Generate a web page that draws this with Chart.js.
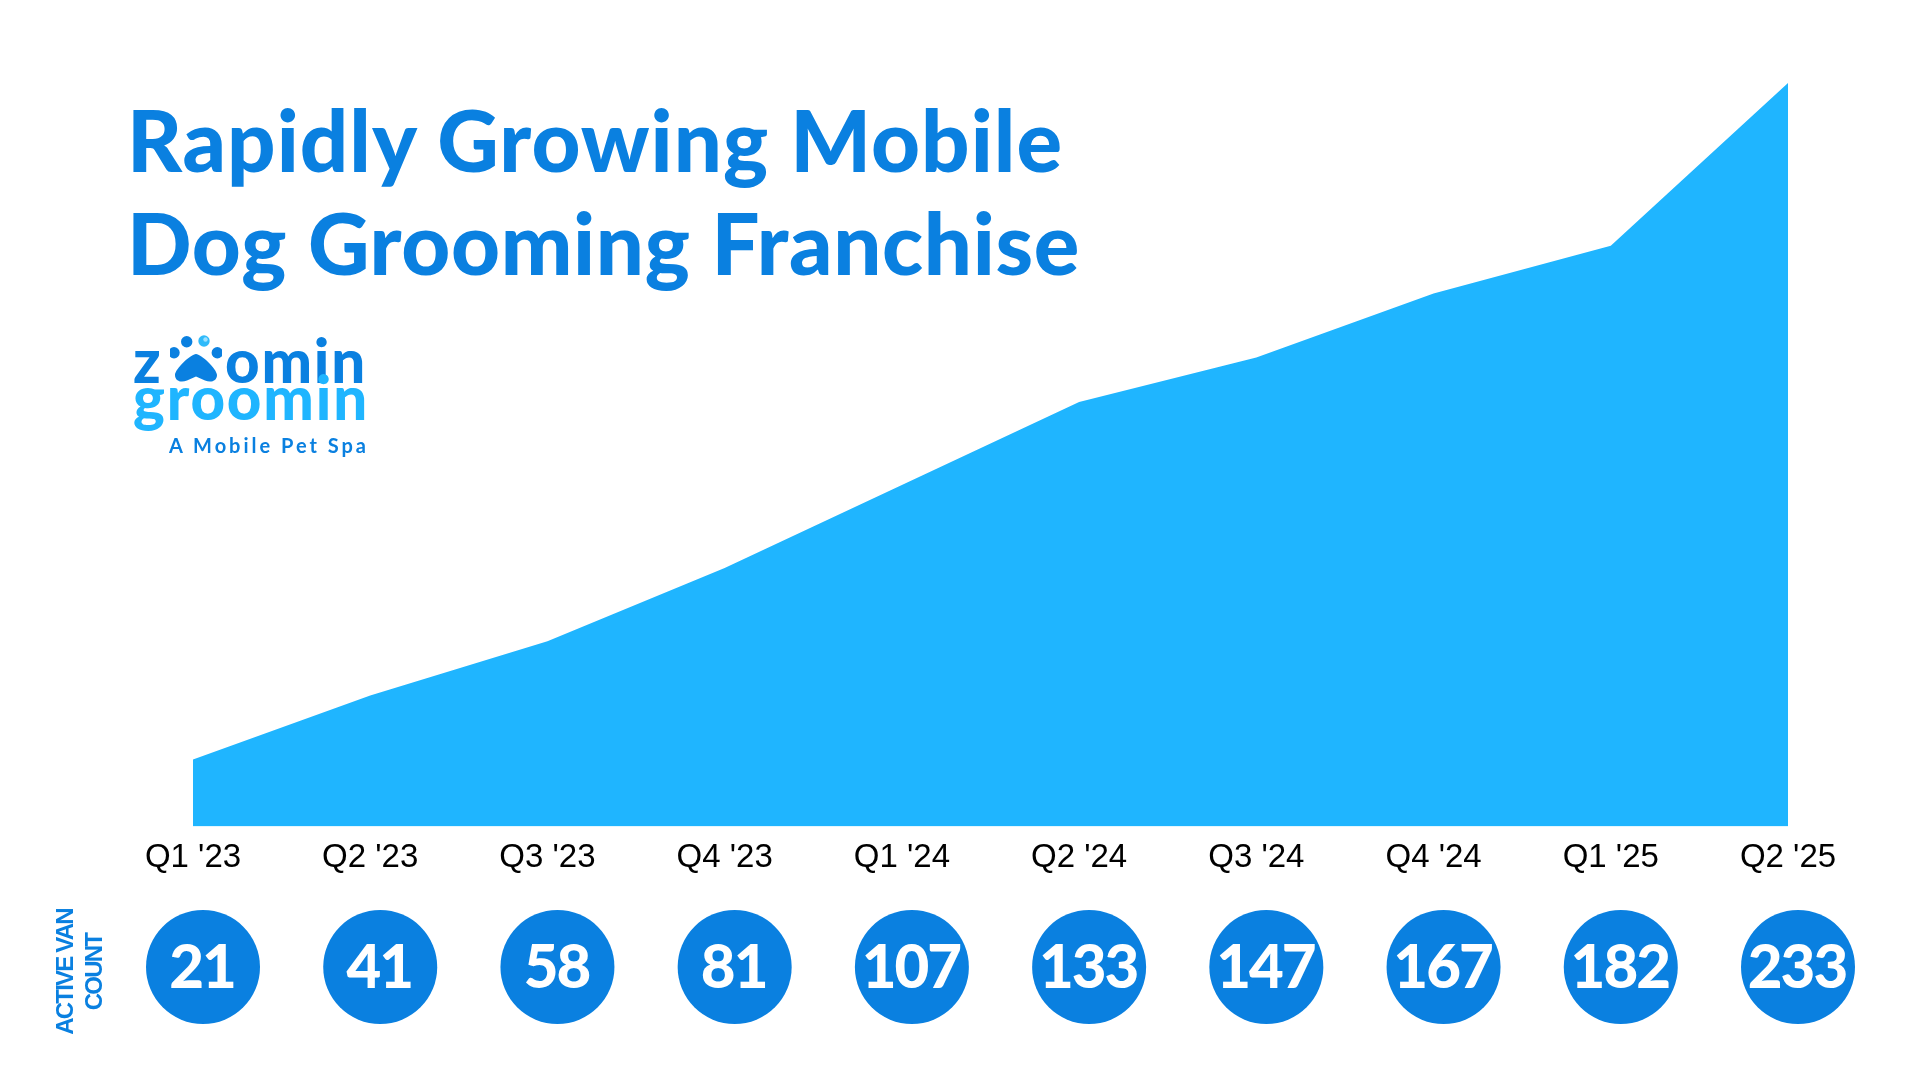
<!DOCTYPE html>
<html>
<head>
<meta charset="utf-8">
<script src="https://cdn.jsdelivr.net/npm/chart.js@4.4.1/dist/chart.umd.min.js"></script>
<style>
  html, body { margin: 0; padding: 0; background: #fff; overflow: hidden; }
  #wrap { position: relative; width: 1920px; height: 1080px; }
  #chart { position: absolute; left: 0; top: 0; }
  .txt { position: absolute; white-space: nowrap; line-height: 1; font-family: Lato, "Open Sans", sans-serif; }
  .title { font-size: 85px; font-weight: 900; color: #0A80E0; }
  .logo { font-size: 60px; font-weight: 900; }
  #side { position: absolute; width: 150px; height: 58px; left: 4px; top: 943px; transform: rotate(-90deg); transform-origin: 50% 50%;
          font-family: "Liberation Sans", Arial, sans-serif; font-weight: 700; font-size: 24px; line-height: 29px;
          letter-spacing: -1.8px; color: #0A80E0; text-align: center; }
</style>
</head>
<body>
<div id="wrap">
  <canvas id="chart" width="1920" height="1080"></canvas>
  <div class="txt title" id="t1">Rapidly Growing Mobile</div>
  <div class="txt title" id="t2">Dog Grooming Franchise</div>
  <div class="txt logo" id="lz" style="color:#0A80E0">z</div>
  <svg id="paw" style="position:absolute;left:170px;top:334px" width="52" height="50" viewBox="0 0 52 50">
    <circle cx="4" cy="18.7" r="5.7" fill="#0A80E0"/>
    <circle cx="16.7" cy="7.7" r="5.7" fill="#0A80E0"/>
    <circle cx="34" cy="7" r="5.7" fill="#2FBAFA"/>
    <circle cx="35.5" cy="5.5" r="2.2" fill="#9BE0FF"/>
    <circle cx="47.3" cy="18.7" r="5.7" fill="#0A80E0"/>
    <path d="M26 20 C21 20 5 35 5 41 C5 47 11 49 17 46.5 L26 42.5 L35 46.5 C41 49 47 47 47 41 C47 35 31 20 26 20 Z" fill="#0A80E0"/>
  </svg>
  <div class="txt logo" id="lo" style="color:#0A80E0">omin</div>
  <div class="txt logo" id="lg" style="color:#1FB5FF">groomin</div>
  <div class="txt" id="ls" style="font-size:20px;font-weight:700;color:#0A80E0">A Mobile Pet Spa</div>
  <div id="side">ACTIVE VAN<br>COUNT</div>
</div>
<script>
const quarters = ["Q1 '23", "Q2 '23", "Q3 '23", "Q4 '23", "Q1 '24", "Q2 '24", "Q3 '24", "Q4 '24", "Q1 '25", "Q2 '25"];
const vanCounts = [21, 41, 58, 81, 107, 133, 147, 167, 182, 233];

const areaColor = '#1FB5FF';
const darkBlue = '#0A80E0';

// put a text box so that its baseline sits on y
function place(id, left, baseline, width) {
  const el = document.getElementById(id);
  el.style.left = left + 'px';
  el.style.top = '0px';
  if (width) {
    const w = el.getBoundingClientRect().width;
    el.style.letterSpacing = ((width - w) / el.textContent.length) + 'px';
  }
  const m = document.createElement('span');
  m.style.cssText = 'display:inline-block;width:0;height:0;vertical-align:baseline';
  el.appendChild(m);
  const off = m.getBoundingClientRect().top - el.getBoundingClientRect().top;
  el.removeChild(m);
  el.style.top = (baseline - off) + 'px';
}

// van count bubbles under the quarter labels
const bubbles = {
  id: 'bubbles',
  afterDraw(chart) {
    const ctx = chart.ctx;
    const xs = chart.scales.x;
    ctx.save();
    vanCounts.forEach((v, i) => {
      const cx = xs.getPixelForValue(i) + 10;
      const cy = 967;
      ctx.beginPath();
      ctx.arc(cx, cy, 57, 0, Math.PI * 2);
      ctx.fillStyle = darkBlue;
      ctx.fill();
      ctx.fillStyle = '#fff';
      ctx.font = '900 60px Lato';
      if ('letterSpacing' in ctx) ctx.letterSpacing = '-2px';
      ctx.textAlign = 'center';
      ctx.textBaseline = 'alphabetic';
      ctx.fillText(String(v), cx - 1, cy + 21);
    });
    ctx.restore();
  }
};

document.fonts.ready.then(() => {
  place('t1', 127, 172, 936);
  place('t2', 127, 275, 953);
  place('lz', 133, 383);
  place('lo', 225, 383, 142);
  place('lg', 133, 420, 236);
  place('ls', 169, 453, 200);

  new Chart(document.getElementById('chart'), {
    type: 'line',
    data: {
      labels: quarters,
      datasets: [{
        data: vanCounts,
        fill: 'origin',
        backgroundColor: areaColor,
        borderWidth: 0,
        pointRadius: 0,
        tension: 0
      }]
    },
    options: {
      responsive: false,
      animation: false,
      layout: { padding: { left: 193, right: 132, top: 83, bottom: 190 } },
      plugins: { legend: { display: false }, tooltip: { enabled: false } },
      scales: {
        x: {
          offset: false,
          grid: { display: false, drawTicks: false },
          border: { display: false },
          ticks: {
            autoSkip: false,
            maxRotation: 0,
            padding: 12,
            color: '#000',
            font: { family: 'Liberation Sans', size: 33 }
          }
        },
        y: { display: false, min: 0, max: 233 }
      }
    },
    plugins: [bubbles]
  });
});
</script>
</body>
</html>
